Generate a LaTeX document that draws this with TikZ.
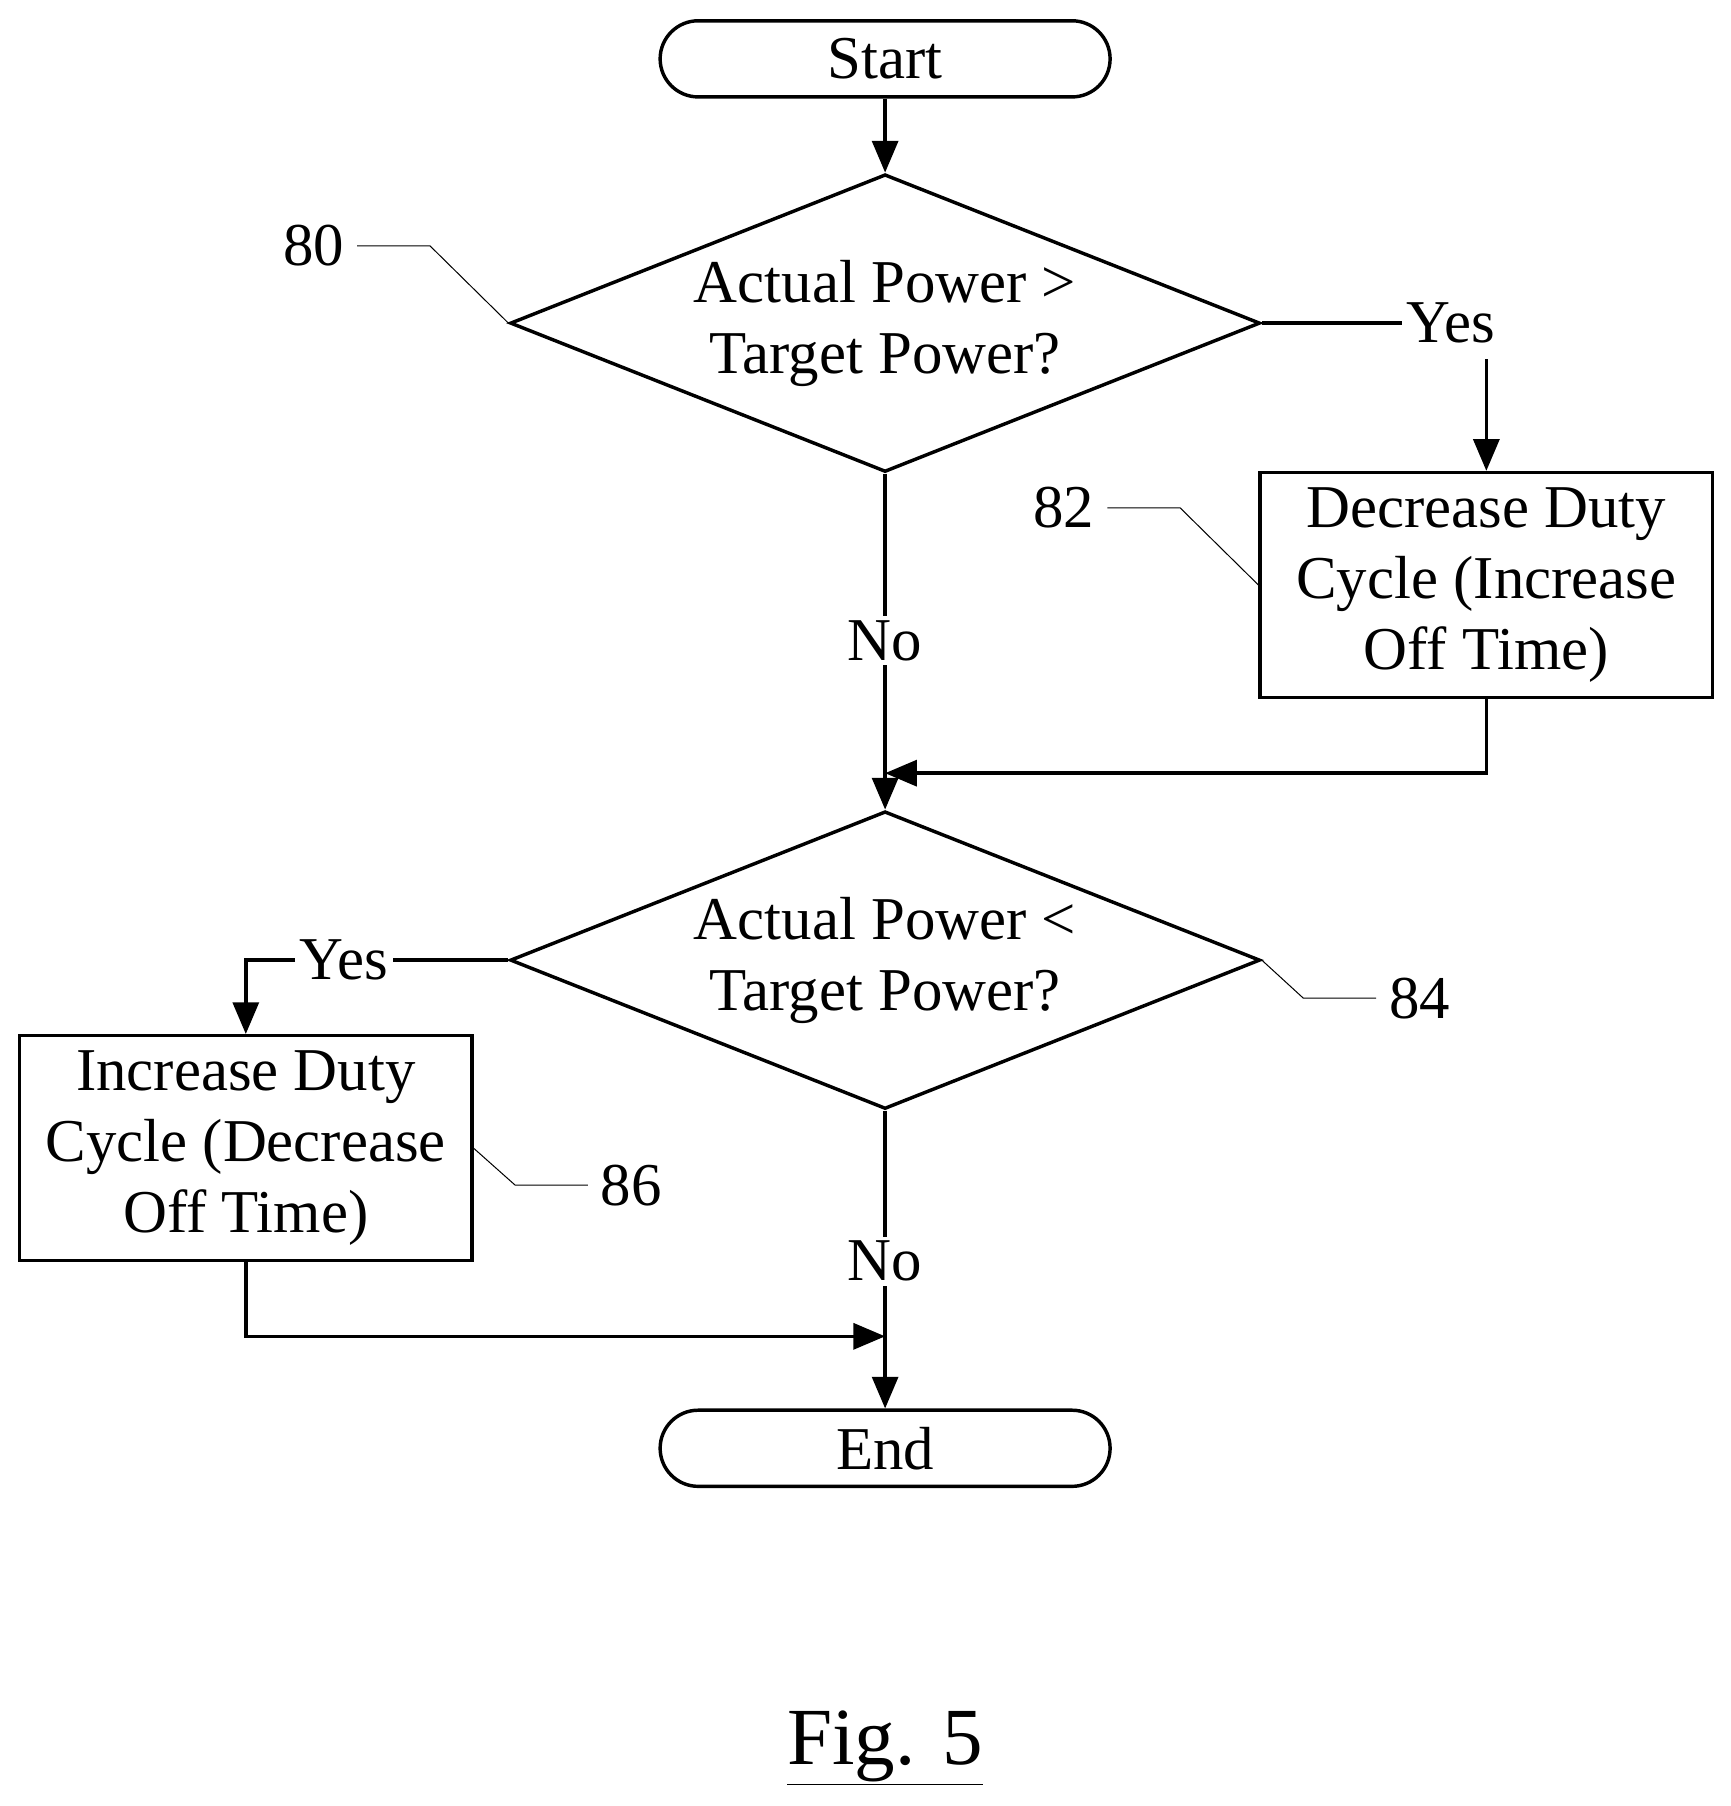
\documentclass[tikz,border=0pt]{standalone}
\usepackage{fontspec}
\setmainfont{Liberation Serif}
\usetikzlibrary{shapes.geometric,arrows.meta}
\begin{document}
\begin{tikzpicture}[x=0.02cm,y=-0.02cm,
  every node/.style={font=\fontsize{30}{35}\selectfont},
  ln/.style={line width=1.7pt},
  arr/.style={ln,-{Triangle[length=0.55cm,width=0.45cm]}},
  lead/.style={line width=0.5pt},
  term/.style={draw,ln,rounded corners=0.66cm,minimum width=7.8cm,minimum height=1.32cm},
  dec/.style={draw,ln,diamond,shape aspect=2.52,minimum width=13cm,minimum height=5.16cm,inner sep=0pt,align=center},
  box/.style={draw,ln,minimum width=7.84cm,minimum height=3.9cm,align=center,inner sep=0pt},
  lbl/.style={inner sep=2pt,fill=white}]
\useasboundingbox (0,0) rectangle (1500,1565);
\node[term] (start) at (767,51) {Start};
\node[dec] (d1) at (767,280) {Actual Power >\\Target Power?};
\node[box] (b82) at (1288,507) {Decrease Duty\\Cycle (Increase\\Off Time)};
\node[dec] (d2) at (767,832) {Actual Power <\\Target Power?};
\node[box] (b86) at (213,995) {Increase Duty\\Cycle (Decrease\\Off Time)};
\node[term] (end) at (767,1255) {End};
\node[lbl] (y1) at (1257,280) {Yes};
\node[lbl] (n1) at (767,555) {No};
\node[lbl] (y2) at (298,832) {Yes};
\node[lbl] (n2) at (767,1093) {No};
\coordinate (m1) at (767,670);
\coordinate (m2) at (767,1158);
\draw[arr] (start) -- (d1);
\draw[ln] (d1.east) -- (y1.west);
\draw[arr] (y1.south -| b82.north) ++(0,10) -- (b82.north);
\draw[ln] (d1.south) -- (n1.north);
\draw[arr] (n1.south) -- (d2.north);
\draw[arr] (b82.south) |- (m1);
\draw[ln] (d2.west) -- (y2.east);
\draw[arr] (y2.west) -| (b86.north);
\draw[ln] (d2.south) -- (n2.north);
\draw[arr] (n2.south) -- (end.north);
\draw[arr] (b86.south) |- (m2);
\node (l80) at (272,213) {80};
\node (l82) at (922,440) {82};
\node (l84) at (1230,865) {84};
\node (l86) at (547,1027) {86};
\draw[lead] (l80.east) ++(5,0) -- ++(63,0) -- (d1.west);
\draw[lead] (l82.east) ++(5,0) -- ++(63,0) -- (b82.west);
\draw[lead] (l84.west) ++(-5,0) -- ++(-63,0) -- (d2.east);
\draw[lead] (l86.west) ++(-5,0) -- ++(-63,0) -- (b86.east);
\node (fig) at (767,1515) {\fontsize{40}{46}\selectfont\underline{Fig. 5}};
\end{tikzpicture}
\end{document}
